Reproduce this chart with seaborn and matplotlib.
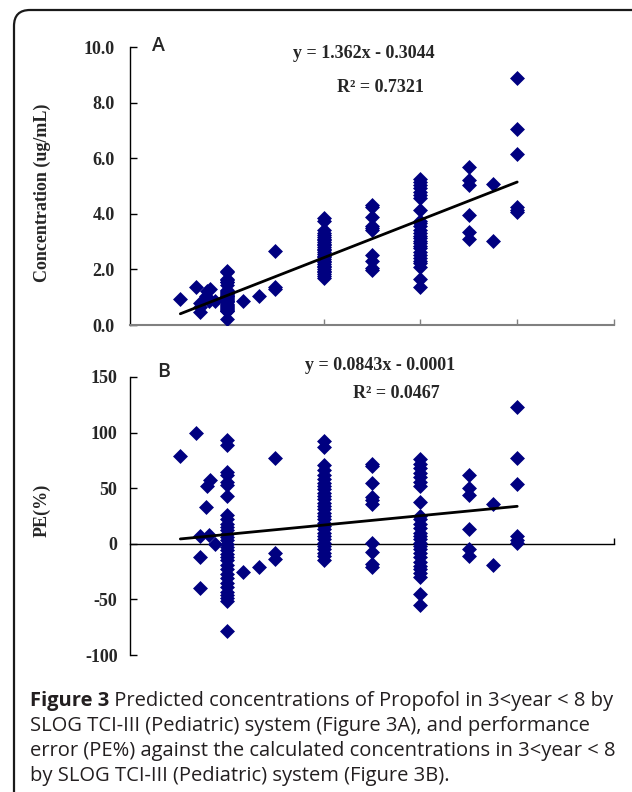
import matplotlib
matplotlib.use("Agg")
import matplotlib.pyplot as plt
import seaborn as sns
import pandas as pd
from matplotlib.patches import FancyBboxPatch

# ---------------- data ----------------
target = [0.52, 0.68, 0.72, 0.72, 0.72, 0.78, 0.80, 0.83, 0.82, 0.88,
          1.0, 1.0, 1.0, 1.0, 1.0, 1.0, 1.0, 1.0, 1.0, 1.0, 1.0, 1.0, 1.0, 1.0, 1.0, 1.0,
          1.0, 1.0, 1.0, 1.0, 1.0, 1.0, 1.0, 1.0, 1.0, 1.0, 1.0, 1.0, 1.0, 1.0, 1.0, 1.0,
          1.17, 1.33, 1.5, 1.5, 1.5,
          2.0, 2.0, 2.0, 2.0, 2.0, 2.0, 2.0, 2.0, 2.0, 2.0, 2.0, 2.0, 2.0, 2.0, 2.0,
          2.0, 2.0, 2.0, 2.0, 2.0, 2.0, 2.0, 2.0, 2.0, 2.0, 2.0, 2.0, 2.0, 2.0, 2.0,
          2.5, 2.5, 2.5, 2.5, 2.5, 2.5, 2.5, 2.5, 2.5, 2.5,
          3.0, 3.0, 3.0, 3.0, 3.0, 3.0, 3.0, 3.0, 3.0, 3.0, 3.0, 3.0, 3.0, 3.0,
          3.0, 3.0, 3.0, 3.0, 3.0, 3.0, 3.0, 3.0, 3.0, 3.0, 3.0, 3.0, 3.0,
          3.5, 3.5, 3.5, 3.5, 3.5, 3.5,
          3.75, 3.75,
          4.0, 4.0, 4.0, 4.0, 4.0, 4.0]

concentration = [0.92, 1.38, 0.78, 0.63, 0.45, 1.04, 1.22, 1.30, 0.88, 0.88,
                 1.93, 1.89, 1.65, 1.62, 1.56, 1.53, 1.43, 1.26, 1.22, 1.18, 1.15, 1.12, 1.09, 1.06, 1.03, 1.00,
                 0.97, 0.94, 0.91, 0.88, 0.85, 0.81, 0.77, 0.73, 0.69, 0.65, 0.61, 0.57, 0.54, 0.51, 0.49, 0.22,
                 0.88, 1.04, 2.65, 1.38, 1.29,
                 3.84, 3.74, 3.42, 3.32, 3.24, 3.16, 3.10, 3.04, 2.98, 2.92, 2.86, 2.80, 2.74, 2.68, 2.62,
                 2.56, 2.50, 2.44, 2.38, 2.32, 2.26, 2.20, 2.14, 2.08, 2.02, 1.96, 1.90, 1.84, 1.78, 1.70,
                 4.30, 4.25, 3.88, 3.55, 3.48, 3.40, 2.53, 2.32, 2.05, 1.97,
                 5.25, 5.15, 5.05, 4.92, 4.80, 4.68, 4.56, 4.15, 3.75, 3.66, 3.55, 3.42, 3.30, 3.21,
                 3.12, 3.03, 2.94, 2.85, 2.76, 2.64, 2.52, 2.40, 2.31, 2.22, 2.10, 1.65, 1.35,
                 5.70, 5.20, 5.05, 3.95, 3.35, 3.10,
                 5.06, 3.01,
                 8.90, 7.05, 6.15, 4.25, 4.15, 4.05]

pe = [79, 100, 7, -12, -40, 33, 52, 57, 8, 0,
      93, 89, 65, 62, 56, 53, 43, 26, 22, 18, 15, 12, 9, 6, 3, 0,
      -3, -6, -9, -12, -15, -19, -23, -27, -31, -35, -39, -43, -46, -49, -51, -78,
      -25, -21, 77, -8, -14,
      92, 87, 71, 66, 62, 58, 55, 52, 49, 46, 43, 40, 37, 34, 31,
      28, 25, 22, 19, 16, 13, 10, 7, 4, 1, -2, -5, -8, -11, -15,
      72, 70, 55, 42, 39, 36, 1, -7, -18, -21,
      76, 72, 68, 64, 60, 56, 52, 38, 25, 22, 18, 14, 10, 7,
      4, 1, -2, -5, -8, -12, -16, -20, -23, -26, -30, -45, -55,
      62, 50, 44, 13, -5, -11,
      36, -19,
      123, 77, 54, 7, 3, 1]

fit_a = (1.362, -0.3044)
fit_b = (0.0843, -0.0001)
r2_a = "0.7321"
r2_b = "0.0467"

yticks_a = [0.0, 2.0, 4.0, 6.0, 8.0, 10.0]
yticklabels_a = ["0.0", "2.0", "4.0", "6.0", "8.0", "10.0"]
yticks_b = [-100, -50, 0, 50, 100, 150]
yticklabels_b = ["-100", "-50", "0", "50", "100", "150"]
xticks = [1, 2, 3, 4, 5]

caption_bold = "Figure 3"
caption_lines = [" Predicted concentrations of Propofol in 3<year < 8 by",
                 "SLOG TCI-III (Pediatric) system (Figure 3A), and performance",
                 "error (PE%) against the calculated concentrations in 3<year < 8",
                 "by SLOG TCI-III (Pediatric) system (Figure 3B)."]

# ---------------- figure ----------------
sns.set_style("white")
plt.rcParams['font.family'] = ['Liberation Serif', 'DejaVu Serif']

W, H = 632, 792
fig = plt.figure(figsize=(W / 100, H / 100), dpi=100)

df = pd.DataFrame({"target": target, "conc": concentration, "pe": pe})

navy = "#000080"
serif = dict(family=['Liberation Serif', 'DejaVu Serif'], weight='bold')

axA = fig.add_axes([130 / W, 1 - 325 / H, 484 / W, 278 / H])
axB = fig.add_axes([130 / W, 1 - 655 / H, 484 / W, 278 / H])

sns.scatterplot(data=df, x="target", y="conc", ax=axA, marker="D", s=58,
                color=navy, linewidth=0, zorder=3)
sns.scatterplot(data=df, x="target", y="pe", ax=axB, marker="D", s=58,
                color=navy, linewidth=0, zorder=3)

xmin, xmax = min(target), max(target)
axA.plot([xmin, xmax], [fit_a[0] * xmin + fit_a[1], fit_a[0] * xmax + fit_a[1]],
         color="black", lw=2.0, zorder=4)
axB.plot([xmin, xmax], [100 * (fit_b[0] * xmin + fit_b[1]), 100 * (fit_b[0] * xmax + fit_b[1])],
         color="black", lw=2.0, zorder=4)

for ax in (axA, axB):
    ax.set_xlim(0, 5)
    ax.set_xlabel("")
    ax.set_ylabel("")
    ax.patch.set_alpha(0)
    ax.spines['top'].set_visible(False)
    ax.spines['right'].set_visible(False)
    ax.spines['left'].set_color('black')
    ax.spines['left'].set_linewidth(1.0)
    ax.set_xticks(xticks)
    ax.set_xticklabels([])
    ax.tick_params(axis='y', direction='in', length=5, width=1, color='black',
                   left=True, labelsize=13)
    ax.tick_params(axis='x', direction='in', length=4, width=1, bottom=True)

axA.set_ylim(0, 10)
axA.set_yticks(yticks_a)
axA.set_yticklabels(yticklabels_a, fontdict=serif)
axA.tick_params(axis='y', pad=11)
axA.spines['bottom'].set_color('#808080')
axA.spines['bottom'].set_linewidth(1.5)
axA.tick_params(axis='x', color='#808080')

axB.set_ylim(-100, 150)
axB.set_yticks(yticks_b)
axB.set_yticklabels(yticklabels_b, fontdict=serif)
axB.tick_params(axis='y', pad=9)
axB.spines['bottom'].set_position(('data', 0))
axB.spines['bottom'].set_color('black')
axB.spines['bottom'].set_linewidth(1.0)
axB.tick_params(axis='x', color='black')

# axis titles
fig.text(42 / W, 1 - 193 / H, "Concentration (ug/mL)", rotation=90, ha='center',
         va='center', fontsize=13, **serif)
fig.text(42 / W, 1 - 510 / H, "PE(%)", rotation=90, ha='center', va='center',
         fontsize=13, **serif)

# panel letters
sans = dict(family=['Open Sans', 'DejaVu Sans'], weight='semibold')
fig.text(152 / W, 1 - 46 / H, "A", ha='left', va='center', fontsize=14, **sans)
fig.text(157 / W, 1 - 372 / H, "B", ha='left', va='center', fontsize=14, **sans)

# equations
fig.text(364 / W, 1 - 54 / H, f"y = {fit_a[0]}x - {abs(fit_a[1])}", ha='center',
         va='center', fontsize=13, **serif)
fig.text(380 / W, 1 - 87 / H, f"R\u00b2 = {r2_a}", ha='center', va='center',
         fontsize=13, **serif)
fig.text(380 / W, 1 - 365 / H, f"y = {fit_b[0]}x - {abs(fit_b[1])}", ha='center',
         va='center', fontsize=13, **serif)
fig.text(396 / W, 1 - 393 / H, f"R\u00b2 = {r2_b}", ha='center', va='center',
         fontsize=13, **serif)

# border box
box = FancyBboxPatch((14 / 100, -0.5), 8.0, 7.82 + 0.5,
                     boxstyle="round,pad=0,rounding_size=0.16",
                     transform=fig.dpi_scale_trans, fill=False,
                     edgecolor='#1a1a1a', linewidth=1.6, clip_on=False)
fig.patches.append(box)

# caption
cap_font = dict(family=['Open Sans', 'DejaVu Sans'], fontsize=14.5, color='#231f20')
line_y = [701, 726, 751, 776]
x0 = 30 / W
t_bold = fig.text(x0, 1 - line_y[0] / H, caption_bold, ha='left', va='center',
                  weight='bold', **cap_font)
fig.canvas.draw()
bb = t_bold.get_window_extent(renderer=fig.canvas.get_renderer())
fig.text(bb.x1 / W, 1 - line_y[0] / H, caption_lines[0], ha='left', va='center', **cap_font)
for ln, yy in zip(caption_lines[1:], line_y[1:]):
    fig.text(x0, 1 - yy / H, ln, ha='left', va='center', **cap_font)

fig.savefig("out.png", dpi=100)
